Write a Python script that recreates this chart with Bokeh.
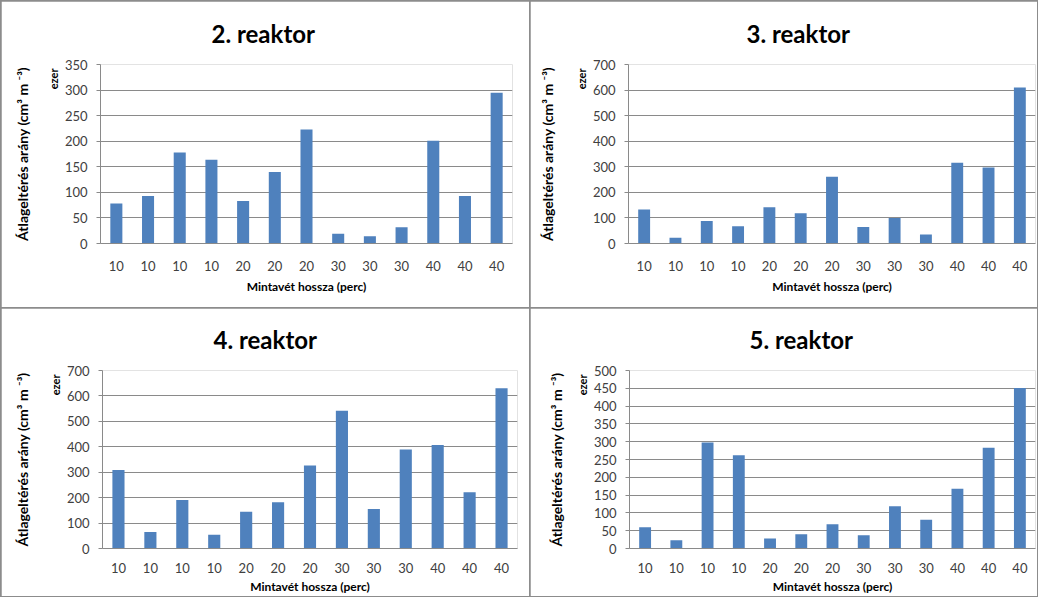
from bokeh.plotting import figure
from bokeh.layouts import column, row
from bokeh.models import Range1d, FixedTicker, LinearAxis, ColumnDataSource, Title
from bokeh.embed import file_html
from bokeh.resources import INLINE

# ---- data ----
categories = ["10", "10", "10", "10", "20", "20", "20", "30", "30", "30", "40", "40", "40"]
reaktor2 = [78, 93, 178, 164, 83, 140, 223, 19, 14, 32, 201, 93, 295]
reaktor3 = [133, 22, 88, 67, 142, 118, 261, 65, 100, 35, 316, 297, 610]
reaktor4 = [309, 65, 191, 54, 145, 182, 326, 542, 155, 389, 407, 221, 630]
reaktor5 = [60, 23, 298, 262, 28, 40, 68, 37, 119, 81, 168, 283, 451]
titles = ["2. reaktor", "3. reaktor", "4. reaktor", "5. reaktor"]
y_max = [350, 700, 700, 500]
y_step = [50, 100, 100, 50]

FONT = "Lato"
BAR = "#4F81BD"
GRID = "#8a8a8a"
YLABEL = "Átlageltérés arány (cm³ m ⁻³)"
XLABEL = "Mintavét hossza (perc)"
UNIT = "ezer"


def make(title, vals, ymax, step, w, h, mb, title_off, s3, xstand):
    n = len(vals)
    xs = list(range(1, n + 1))
    src = ColumnDataSource(dict(x=xs, top=vals))
    p = figure(width=w, height=h, output_backend="svg", toolbar_location=None,
               x_range=Range1d(0.5, n + 0.5), y_range=Range1d(0, ymax),
               min_border_left=mb[0], min_border_right=mb[1],
               min_border_top=mb[2], min_border_bottom=mb[3])
    p.vbar(x="x", top="top", width=0.38, source=src, fill_color=BAR, line_color=None)
    p.title.text = title
    p.title.align = "left"
    p.title.offset = title_off
    p.title.vertical_align = "top"
    p.title.standoff = 29
    p.title.text_font = FONT
    p.title.text_font_size = "24px"
    p.title.text_font_style = "bold"
    p.title.text_color = "#000000"
    p.outline_line_color = None
    p.xgrid.grid_line_color = None
    p.ygrid.grid_line_color = GRID
    p.ygrid.grid_line_width = 1

    xa = p.xaxis[0]
    xa.ticker = FixedTicker(ticks=xs)
    xa.major_label_overrides = {x: c for x, c in zip(xs, categories)}
    xa.major_tick_out = 0
    xa.major_tick_in = 0
    xa.minor_tick_out = 0
    xa.axis_line_color = GRID
    xa.major_label_text_font = FONT
    xa.major_label_text_font_size = "13px"
    xa.major_label_text_color = "#404040"
    xa.major_label_standoff = xstand[0]
    xa.axis_label = XLABEL
    xa.axis_label_text_font = FONT
    xa.axis_label_text_font_size = "12px"
    xa.axis_label_text_font_style = "bold"
    xa.axis_label_text_color = "#000000"
    xa.axis_label_standoff = xstand[1]

    ya = p.yaxis[0]
    ya.ticker = FixedTicker(ticks=list(range(0, ymax + 1, step)))
    ya.major_tick_out = 4
    ya.major_tick_in = 0
    ya.minor_tick_out = 0
    ya.minor_tick_in = 0
    ya.axis_line_color = GRID
    ya.major_tick_line_color = GRID
    ya.major_label_text_font = FONT
    ya.major_label_text_font_size = "13px"
    ya.major_label_text_color = "#404040"
    ya.major_label_standoff = 9

    # small "ezer" unit label near the top of the value axis
    p.add_layout(Title(text=UNIT, align="right", offset=4, vertical_align="bottom",
                       standoff=3, text_font=FONT, text_font_size="11px",
                       text_font_style="bold", text_color="#000000"), "left")
    la = LinearAxis(ticker=FixedTicker(ticks=[]),
                    axis_line_color=None, major_tick_out=0, major_tick_in=0,
                    minor_tick_out=0, minor_tick_in=0,
                    axis_label=YLABEL, axis_label_standoff=s3,
                    axis_label_text_font=FONT, axis_label_text_font_size="14px",
                    axis_label_text_font_style="bold", axis_label_text_color="#000000")
    p.add_layout(la, "left")
    return p


p1 = make(titles[0], reaktor2, y_max[0], y_step[0], 528, 306, (99, 17, 62, 64), 111, 13, (17, 5))
p2 = make(titles[1], reaktor3, y_max[1], y_step[1], 507, 306, (98, 2, 63, 61), 118, 16, (17, 5))
p3 = make(titles[2], reaktor4, y_max[2], y_step[2], 528, 288, (101, 12, 62, 47), 111, 15, (14, 3))
p4 = make(titles[3], reaktor5, y_max[3], y_step[3], 507, 288, (99, 2, 60, 48), 120, 8, (14, 3))

layout = column(row(p1, p2, spacing=1), row(p3, p4, spacing=1), spacing=1,
                styles={"background-color": "#8c8c8c", "padding": "1px"})
open("out.html", "w").write(file_html(layout, INLINE))
